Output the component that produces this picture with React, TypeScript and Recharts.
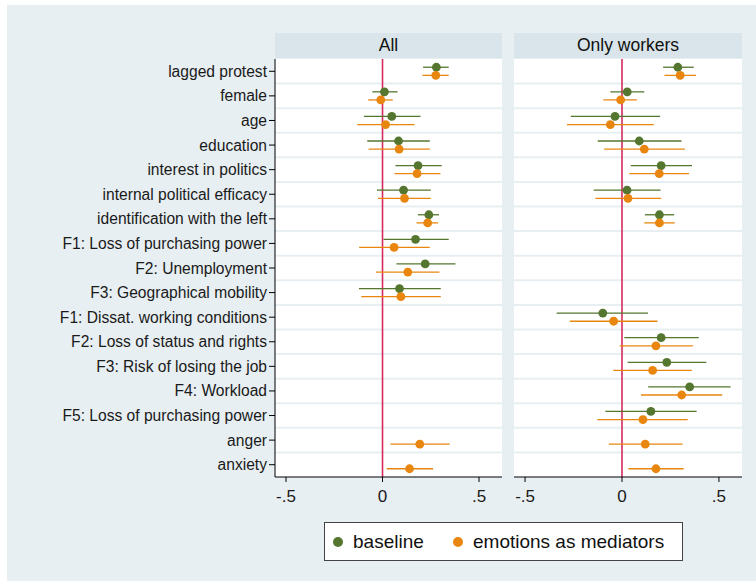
import React from "react";
import {
  ScatterChart,
  Scatter,
  XAxis,
  YAxis,
  ErrorBar,
  ReferenceLine,
} from "recharts";

// ---------- data ----------
const labels: string[] = [
  "lagged protest",
  "female",
  "age",
  "education",
  "interest in politics",
  "internal political efficacy",
  "identification with the left",
  "F1: Loss of purchasing power",
  "F2: Unemployment",
  "F3: Geographical mobility",
  "F1: Dissat. working conditions",
  "F2: Loss of status and rights",
  "F3: Risk of losing the job",
  "F4: Workload",
  "F5: Loss of purchasing power",
  "anger",
  "anxiety",
];

const xTicks: number[] = [-0.5, 0, 0.5];
const xTickLabels: string[] = ["-.5", "0", ".5"];

// Panel "All" — baseline
const allBaseCoef = [0.279, 0.01, 0.048, 0.083, 0.184, 0.109, 0.24, 0.171, 0.221, 0.088, null, null, null, null, null, null, null];
const allBaseLo = [0.21, -0.053, -0.097, -0.079, 0.067, -0.029, 0.183, 0.005, 0.072, -0.122, null, null, null, null, null, null, null];
const allBaseHi = [0.343, 0.078, 0.197, 0.245, 0.307, 0.25, 0.293, 0.343, 0.378, 0.302, null, null, null, null, null, null, null];
// Panel "All" — emotions as mediators
const allEmoCoef = [0.276, -0.009, 0.016, 0.086, 0.179, 0.114, 0.234, 0.06, 0.131, 0.095, null, null, null, null, null, 0.193, 0.14];
const allEmoLo = [0.207, -0.074, -0.131, -0.072, 0.062, -0.024, 0.176, -0.121, -0.034, -0.11, null, null, null, null, null, 0.041, 0.022];
const allEmoHi = [0.343, 0.053, 0.166, 0.245, 0.3, 0.25, 0.288, 0.245, 0.295, 0.302, null, null, null, null, null, 0.348, 0.262];

// Panel "Only workers" — baseline
const wrkBaseCoef = [0.288, 0.027, -0.036, 0.089, 0.202, 0.026, 0.193, null, null, null, -0.099, 0.202, 0.231, 0.349, 0.149, null, null];
const wrkBaseLo = [0.212, -0.06, -0.264, -0.125, 0.045, -0.146, 0.118, null, null, null, -0.337, 0.012, 0.029, 0.135, -0.086, null, null];
const wrkBaseHi = [0.37, 0.115, 0.197, 0.307, 0.361, 0.199, 0.269, null, null, null, 0.134, 0.396, 0.435, 0.56, 0.385, null, null];
// Panel "Only workers" — emotions as mediators
const wrkEmoCoef = [0.3, -0.007, -0.06, 0.115, 0.192, 0.031, 0.193, null, null, null, -0.043, 0.175, 0.158, 0.308, 0.108, 0.12, 0.175];
const wrkEmoLo = [0.219, -0.096, -0.284, -0.092, 0.038, -0.137, 0.115, null, null, null, -0.269, -0.012, -0.045, 0.098, -0.127, -0.068, 0.033];
const wrkEmoHi = [0.382, 0.077, 0.164, 0.324, 0.346, 0.202, 0.272, null, null, null, 0.183, 0.366, 0.36, 0.517, 0.339, 0.312, 0.318];

const seriesNames = ["baseline", "emotions as mediators"];
const panelTitles = ["All", "Only workers"];

// ---------- styling ----------
const GREEN = "#55762f";
const ORANGE = "#e8860f";
const BG = "#e8eff2";
const HEADER = "#d9e5ea";
const ZERO = "#d62a5e";
const FONT = "'Liberation Sans', Arial, Helvetica, sans-serif";
const X_DOMAIN: [number, number] = [-0.557, 0.619];
const ROW_SHIFT = 0.165;

type Pt = { x: number; y: number; err: [number, number] };

function build(coef: (number | null)[], lo: (number | null)[], hi: (number | null)[], shift: number): Pt[] {
  const out: Pt[] = [];
  coef.forEach((c, i) => {
    if (c === null) return;
    const l = lo[i] as number;
    const h = hi[i] as number;
    out.push({ x: c, y: i + 1 + shift, err: [c - l, h - c] });
  });
  return out;
}

const rowIdx = labels.map((_, i) => i + 1);
const separators = labels.slice(1).map((_, i) => i + 1.5);

const dot = (color: string) => (props: any) => {
  const { cx, cy } = props;
  if (cx == null || cy == null) return <g />;
  return <circle cx={cx} cy={cy} r={4.4} fill={color} stroke="none" />;
};

function Panel({
  base,
  emo,
  showLabels,
  width,
}: {
  base: Pt[];
  emo: Pt[];
  showLabels: boolean;
  width: number;
}) {
  const yW = showLabels ? 275 : 0;
  return (
    <ScatterChart
      width={width}
      height={464}
      margin={{ top: 0, right: 0, bottom: 0, left: 0 }}
      style={{ fontFamily: FONT }}
    >
      {/* white plotting area */}
      <rect x={yW} y={0} width={width - yW} height={418} fill="#ffffff" />
      <XAxis
        type="number"
        dataKey="x"
        domain={X_DOMAIN}
        ticks={xTicks}
        tickFormatter={(v: number) => xTickLabels[xTicks.indexOf(v)] ?? String(v)}
        allowDataOverflow
        height={46}
        stroke="#000"
        tickSize={5}
        tickMargin={8}
        tick={{ fill: "#1a1a1a", fontSize: 17, fontFamily: FONT }}
      />
      <YAxis
        type="number"
        dataKey="y"
        domain={[0.5, 17.5]}
        reversed
        ticks={rowIdx}
        interval={0}
        allowDataOverflow
        width={yW}
        hide={!showLabels}
        stroke="#000"
        tickSize={6}
        tickMargin={2}
        tickFormatter={(v: number) => labels[v - 1] ?? ""}
        tick={{ fill: "#1a1a1a", fontSize: 15.6, fontFamily: FONT }}
      />
      {separators.map((s) => (
        <ReferenceLine key={s} y={s} stroke={BG} strokeWidth={2} ifOverflow="hidden" />
      ))}
      <ReferenceLine x={0} stroke={ZERO} strokeWidth={1.6} />
      <Scatter
        name={seriesNames[0]}
        data={base}
        fill={GREEN}
        shape={dot(GREEN)}
        isAnimationActive={false}
      >
        <ErrorBar dataKey="err" direction="x" width={0} stroke={GREEN} strokeWidth={1.3} />
      </Scatter>
      <Scatter
        name={seriesNames[1]}
        data={emo}
        fill={ORANGE}
        shape={dot(ORANGE)}
        isAnimationActive={false}
      >
        <ErrorBar dataKey="err" direction="x" width={0} stroke={ORANGE} strokeWidth={1.3} />
      </Scatter>
    </ScatterChart>
  );
}

export default function App() {
  const allBase = build(allBaseCoef, allBaseLo, allBaseHi, -ROW_SHIFT);
  const allEmo = build(allEmoCoef, allEmoLo, allEmoHi, ROW_SHIFT);
  const wrkBase = build(wrkBaseCoef, wrkBaseLo, wrkBaseHi, -ROW_SHIFT);
  const wrkEmo = build(wrkEmoCoef, wrkEmoLo, wrkEmoHi, ROW_SHIFT);

  const headerStyle: React.CSSProperties = {
    position: "absolute",
    top: 33,
    height: 25,
    background: HEADER,
    color: "#111",
    fontSize: 17.5,
    lineHeight: "25px",
    textAlign: "center",
    fontFamily: FONT,
  };

  const legendDot = (color: string, left: number): React.CSSProperties => ({
    position: "absolute",
    left,
    top: 14,
    width: 10,
    height: 10,
    borderRadius: "50%",
    background: color,
  });
  const legendText = (left: number): React.CSSProperties => ({
    position: "absolute",
    left,
    top: 0,
    lineHeight: "37px",
    fontSize: 19,
    color: "#111",
    whiteSpace: "nowrap",
  });

  return (
    <div
      style={{
        position: "absolute",
        left: 0,
        top: 0,
        width: 756,
        height: 581,
        background: "#ffffff",
        overflow: "hidden",
        fontFamily: FONT,
      }}
    >
      <div style={{ position: "absolute", left: 7, top: 5, width: 749, height: 576, background: BG }} />
      <div style={{ ...headerStyle, left: 275, width: 227 }}>{panelTitles[0]}</div>
      <div style={{ ...headerStyle, left: 514, width: 228 }}>{panelTitles[1]}</div>
      <div style={{ position: "absolute", left: 0, top: 59 }}>
        <Panel base={allBase} emo={allEmo} showLabels width={502} />
      </div>
      <div style={{ position: "absolute", left: 514, top: 59 }}>
        <Panel base={wrkBase} emo={wrkEmo} showLabels={false} width={228} />
      </div>
      {/* legend */}
      <div
        style={{
          position: "absolute",
          left: 324,
          top: 522,
          width: 357,
          height: 37,
          background: "#fff",
          border: "1px solid #444",
          fontFamily: FONT,
        }}
      >
        <span style={legendDot(GREEN, 8)} />
        <span style={legendText(28)}>{seriesNames[0]}</span>
        <span style={legendDot(ORANGE, 128)} />
        <span style={legendText(148)}>{seriesNames[1]}</span>
      </div>
    </div>
  );
}
